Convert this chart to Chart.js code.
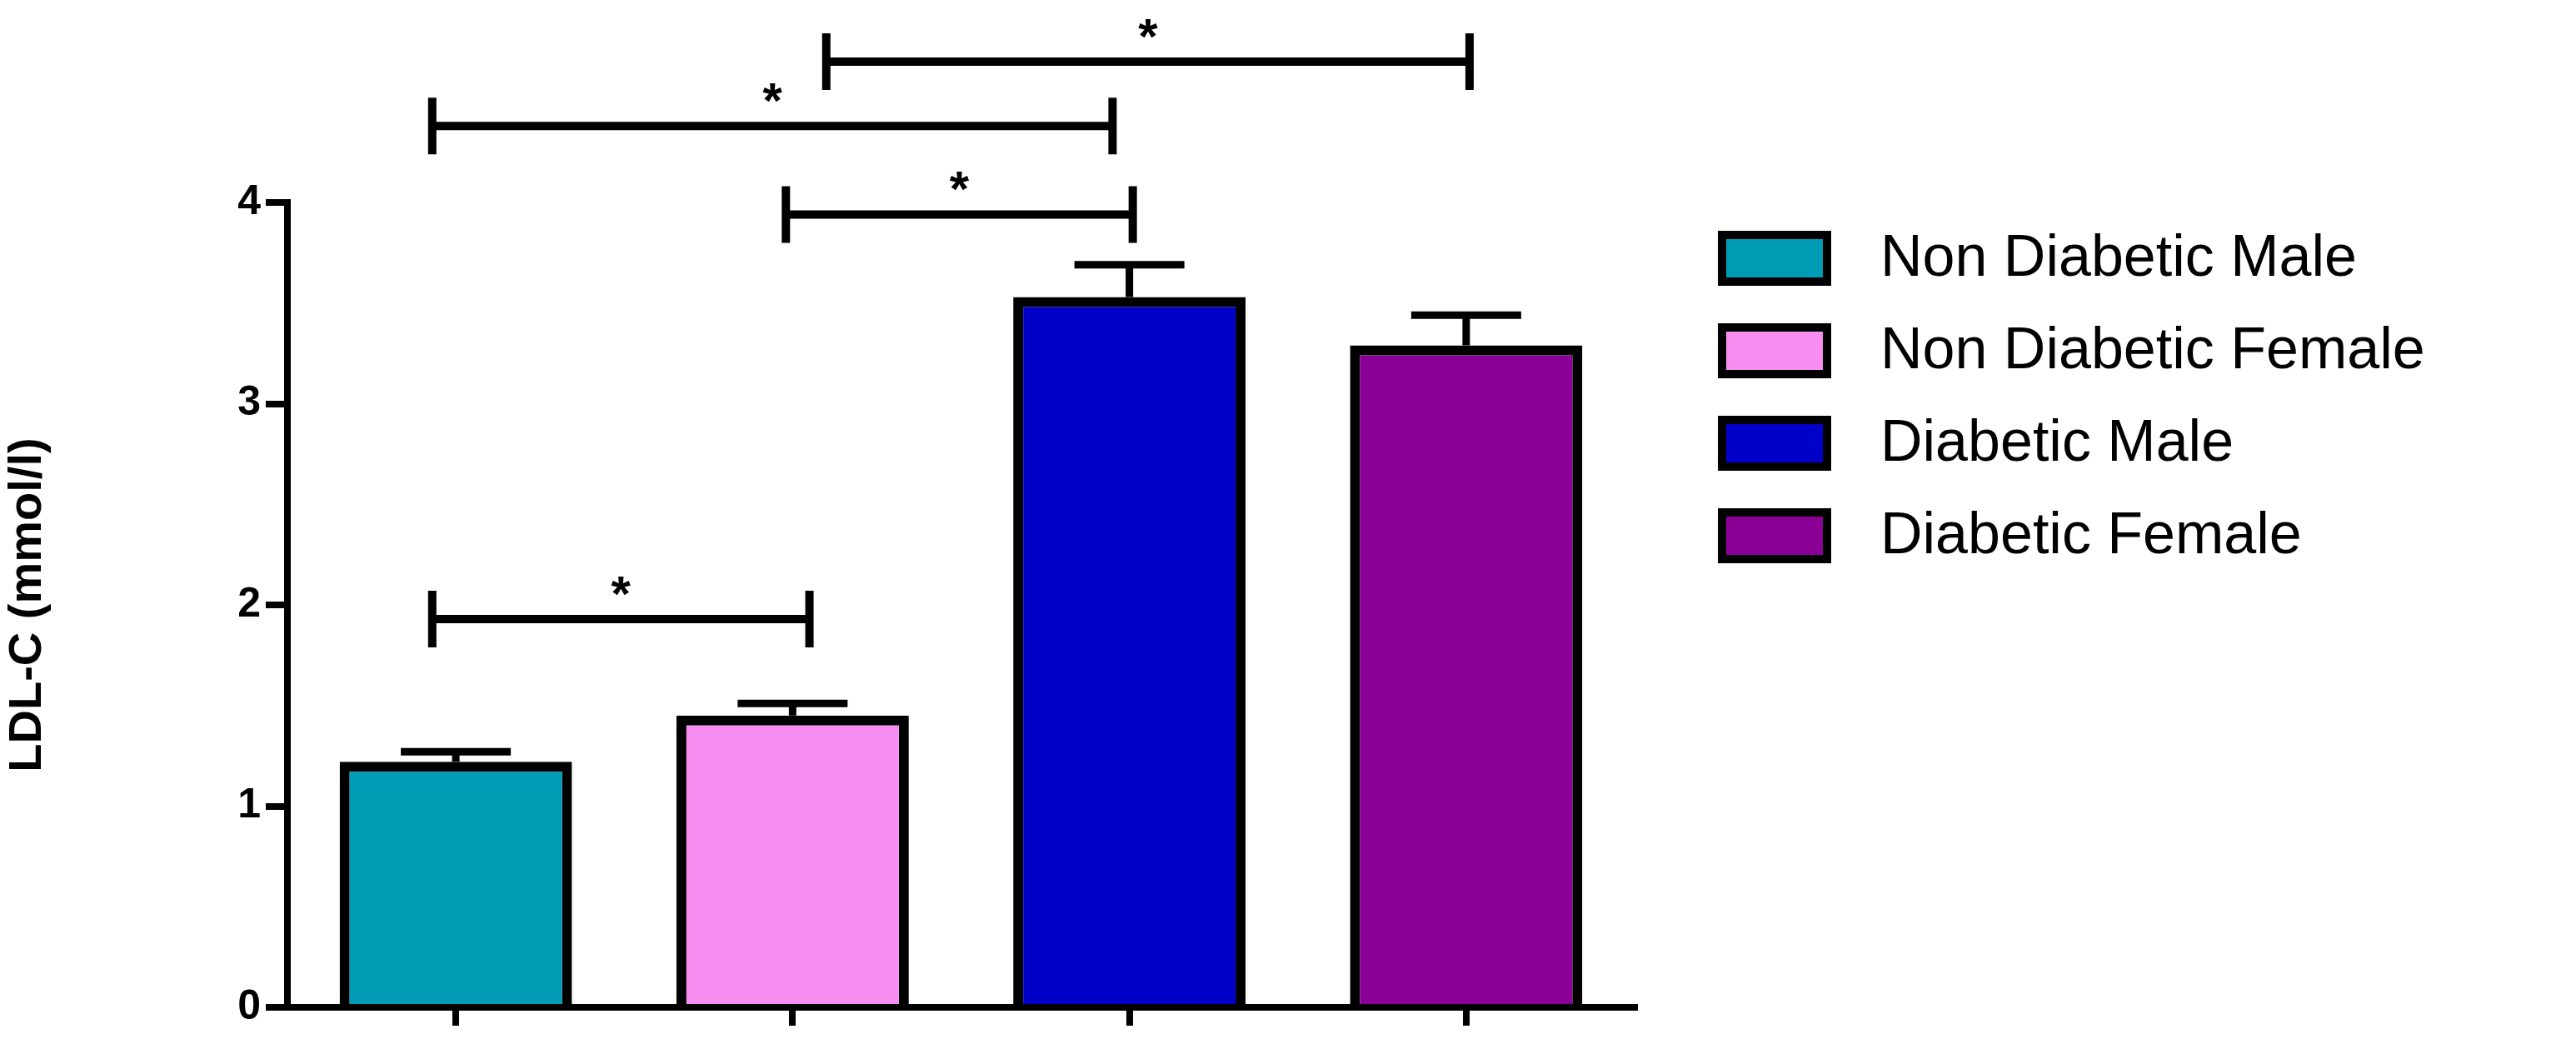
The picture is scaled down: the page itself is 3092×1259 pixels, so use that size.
<!DOCTYPE html>
<html><head><meta charset="utf-8">
<script src="https://cdn.jsdelivr.net/npm/chart.js@4/dist/chart.umd.min.js"></script>
<style>html,body{margin:0;padding:0;background:#fff}</style>
</head><body>
<canvas id="c" width="3092" height="1259"></canvas>
<script>
const categories = ["Non Diabetic Male","Non Diabetic Female","Diabetic Male","Diabetic Female"];
const means = [1.22, 1.45, 3.53, 3.29];
const sems = [0.05, 0.06, 0.16, 0.15];
const colors = ["#009BB5","#F78EF2","#0000C8","#8A0096"];
const yTicks = [0,1,2,3,4];
// significance brackets: [start index, end index, y value]
const brackets = [[-0.07,1.05,1.93],[0.98,2.01,3.94],[-0.07,1.95,4.38],[1.10,3.01,4.70]];

const extras = {
  id:'extras',
  afterDatasetsDraw(chart){
    const ctx=chart.ctx, x=chart.scales.x, y=chart.scales.y;
    ctx.save();
    ctx.strokeStyle='#000'; ctx.lineWidth=9; ctx.lineCap='butt';
    // error bars (upper)
    means.forEach((m,i)=>{
      const cx=x.getPixelForValue(i), top=y.getPixelForValue(m+sems[i]), base=y.getPixelForValue(m);
      ctx.beginPath(); ctx.moveTo(cx,base); ctx.lineTo(cx,top);
      ctx.moveTo(cx-66,top); ctx.lineTo(cx+66,top); ctx.stroke();
    });
    // brackets
    const step = x.getPixelForValue(1)-x.getPixelForValue(0);
    const x0 = x.getPixelForValue(0);
    ctx.lineWidth=10;
    brackets.forEach(b=>{
      const xa=x0+b[0]*step, xb=x0+b[1]*step, yy=y.getPixelForValue(b[2]);
      ctx.beginPath(); ctx.moveTo(xa,yy); ctx.lineTo(xb,yy);
      ctx.moveTo(xa,yy-34); ctx.lineTo(xa,yy+34);
      ctx.moveTo(xb,yy-34); ctx.lineTo(xb,yy+34); ctx.stroke();
      ctx.fillStyle='#000'; ctx.font='bold 60px Arial, "Liberation Sans"';
      ctx.textAlign='center'; ctx.textBaseline='alphabetic';
      ctx.fillText('*',(xa+xb)/2,yy-10);
    });
    // legend
    ctx.font='70px "Liberation Sans", Arial';
    ctx.textAlign='left'; ctx.textBaseline='middle';
    categories.forEach((c,i)=>{
      const cy=310+i*111;
      ctx.fillStyle=colors[i]; ctx.fillRect(2067,cy-28,126,56);
      ctx.lineWidth=10; ctx.strokeRect(2067,cy-28,126,56);
      ctx.fillStyle='#000'; ctx.fillText(c,2257,cy+2);
    });
    ctx.restore();
  }
};

new Chart(document.getElementById('c'),{
  type:'bar',
  data:{labels:categories,datasets:[{data:means,backgroundColor:colors,borderColor:'#000',borderWidth:12,borderSkipped:'bottom',barPercentage:0.69,categoryPercentage:1}]},
  options:{
    responsive:false, animation:false, devicePixelRatio:1,
    layout:{padding:{top:243,right:1130,left:0,bottom:0}},
    plugins:{legend:{display:false},tooltip:{enabled:false}},
    scales:{
      x:{offset:true,ticks:{display:false},
         grid:{drawOnChartArea:false,tickLength:22,lineWidth:8,color:'#000',offset:false},
         border:{color:'#000',width:8},
         afterFit(s){s.height=50;}},
      y:{min:0,max:4,afterBuildTicks(s){s.ticks=yTicks.map(v=>({value:v}));},
         ticks:{color:'#000',font:{size:50,weight:'bold',family:'Arial, "Liberation Sans"'},padding:6},
         grid:{drawOnChartArea:false,tickLength:26,lineWidth:8,color:'#000'},
         border:{color:'#000',width:8},
         title:{display:true,text:'LDL-C (mmol/l)',color:'#000',font:{size:56,weight:'bold',family:'Arial, "Liberation Sans"'},padding:{top:0,bottom:30}},
         afterFit(s){s.width=345;}}
    }
  },
  plugins:[extras]
});
</script>
</body></html>
